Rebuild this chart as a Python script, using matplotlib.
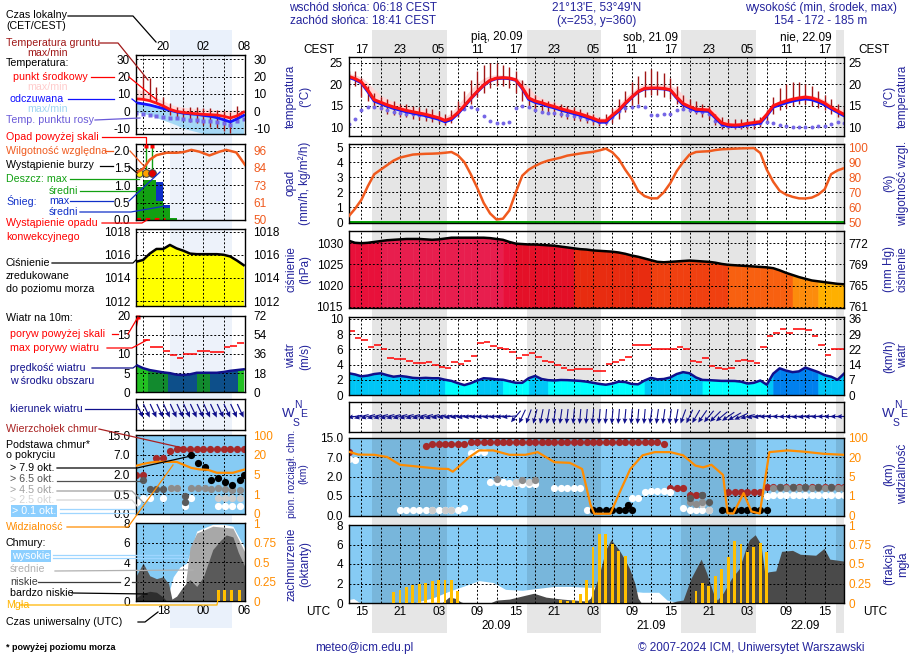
import numpy as np
import matplotlib
matplotlib.use("Agg")
import matplotlib.pyplot as plt
import matplotlib.transforms as mtransforms
from matplotlib.lines import Line2D
from matplotlib.patches import Rectangle
from matplotlib.colors import ListedColormap, BoundaryNorm

plt.rcParams["font.family"] = ["Liberation Sans", "DejaVu Sans"]
FS = 8.5
LFS = 7.7
plt.rcParams["font.size"] = FS

# ============================ DATA ============================
# main meteogram, hours since 19.09 00 UTC
hours = list(range(13, 91))
temp = [21.8, 21.3, 20.5, 18.6, 16.4, 15.8, 15.2, 14.7, 14.3, 13.9,
        13.6, 13.3, 13.0, 12.6, 12.2, 11.6, 12.1, 13.4, 15.0, 16.7,
        18.3, 19.8, 20.9, 21.4, 21.5, 21.4, 21.0, 19.2, 16.8, 16.1,
        15.7, 15.2, 14.8, 14.3, 13.9, 13.5, 13.1, 12.6, 12.1, 11.5,
        11.5, 12.8, 14.0, 15.6, 17.0, 18.3, 19.0, 19.1, 19.1, 19.0,
        18.7, 17.0, 15.5, 14.8, 14.2, 14.1, 14.0, 12.5, 11.0, 10.6,
        10.5, 10.6, 10.9, 11.1, 11.3, 13.0, 15.0, 15.6, 16.1, 16.5,
        16.8, 17.0, 16.8, 16.3, 15.6, 14.6, 13.8, 13.0]
temp_hi = [22.5, 22.2, 21.6, 20.4, 18.8, 17.5, 16.6, 15.9, 15.4, 15.0,
           14.6, 14.2, 13.9, 13.5, 13.0, 12.4, 13.4, 15.2, 17.0, 18.8,
           20.3, 21.4, 22.0, 22.2, 22.1, 21.9, 21.6, 20.8, 19.3, 17.6,
           16.8, 16.2, 15.7, 15.2, 14.7, 14.3, 13.9, 13.4, 12.9, 12.2,
           12.2, 13.8, 15.4, 16.9, 18.2, 19.4, 20.0, 20.1, 20.0, 19.9,
           19.7, 19.0, 17.5, 15.9, 15.0, 14.8, 14.7, 13.8, 12.0, 11.2,
           11.1, 11.2, 11.4, 11.7, 12.0, 13.5, 15.4, 16.3, 16.8, 17.1,
           17.4, 17.6, 17.4, 17.0, 16.4, 15.5, 14.6, 13.9]
feels = [21.6, 21.1, 20.3, 18.3, 16.1, 15.5, 14.9, 14.4, 14.0, 13.6,
         13.3, 13.0, 12.7, 12.3, 11.9, 11.3, 11.8, 13.2, 14.8, 16.6,
         18.2, 19.7, 20.8, 21.3, 21.4, 21.3, 20.9, 19.0, 16.5, 15.8,
         15.4, 14.9, 14.5, 14.0, 13.6, 13.2, 12.8, 12.3, 11.8, 11.2,
         11.2, 12.5, 13.8, 15.4, 16.9, 18.2, 18.9, 19.0, 19.0, 18.9,
         18.6, 16.8, 15.2, 14.5, 13.9, 13.8, 13.7, 12.2, 10.7, 10.3,
         10.2, 10.3, 10.6, 10.8, 11.0, 12.7, 14.7, 15.2, 15.7, 16.1,
         16.4, 16.6, 16.4, 15.9, 15.2, 14.3, 13.5, 12.7]
dew = [10.8, 12.0, 14.0, 14.6, 14.6, 14.4, 13.9, 13.6, 13.4, 13.2,
       13.0, 12.8, 12.6, 12.3, 12.0, 11.5, 12.2, 13.6, 14.3, 14.6,
       14.2, 12.6, 11.4, 11.0, 11.0, 11.3, 14.4, 15.0, 14.6, 14.0,
       13.6, 13.4, 13.3, 13.1, 12.8, 12.6, 12.3, 12.0, 11.6, 11.3,
       11.3, 12.5, 13.8, 14.4, 14.8, 15.0, 14.8, 12.8, 12.8, 13.0,
       13.2, 14.0, 14.3, 14.0, 13.8, 13.6, 13.2, 11.5, 10.5, 10.2,
       10.2, 10.4, 10.6, 10.8, 11.0, 11.2, 11.0, 10.6, 10.2, 10.0,
       10.0, 10.0, 10.1, 10.2, 10.3, 10.8, 11.2, 11.0]
ground_max = [23.0, 23.0, 21.5, 19.5, 18.0, 17.0, 16.5, 16.0, 15.5, 15.3,
              15.0, 14.8, 14.5, 14.2, 13.8, 13.0, 14.0, 16.0, 18.5, 21.0,
              23.0, 24.5, 25.0, 25.0, 24.5, 24.0, 23.0, 21.0, 19.0, 17.5,
              16.5, 16.0, 15.8, 15.5, 15.0, 14.7, 14.2, 13.5, 13.0, 12.5,
              13.0, 14.5, 16.5, 18.5, 20.5, 22.0, 23.0, 23.5, 23.0, 22.5,
              21.5, 19.5, 17.5, 16.5, 16.0, 15.5, 15.0, 13.0, 12.5, 12.0,
              12.0, 12.0, 12.0, 12.2, 12.5, 14.0, 17.0, 19.0, 20.0, 20.5,
              20.5, 20.0, 19.5, 18.5, 17.5, 16.5, 15.5, 15.0]
ground_min = [19.0, 19.5, 17.0, 16.0, 14.5, 14.0, 13.0, 12.8, 12.5, 12.3,
              12.0, 11.8, 11.5, 11.2, 11.0, 10.5, 11.0, 12.5, 14.0, 15.5,
              17.0, 18.0, 19.0, 19.5, 19.5, 19.0, 18.0, 16.0, 15.0, 14.0,
              13.5, 13.0, 12.8, 12.5, 12.0, 11.8, 11.5, 11.0, 10.5, 10.2,
              10.5, 11.0, 12.0, 13.5, 14.5, 15.5, 17.0, 17.5, 17.5, 17.0,
              16.5, 15.5, 14.5, 13.5, 13.0, 12.5, 12.0, 10.5, 9.5, 9.5,
              9.5, 9.5, 9.5, 9.5, 10.0, 11.0, 13.0, 14.0, 14.5, 15.0,
              15.5, 15.5, 15.0, 14.5, 14.0, 13.0, 12.5, 12.0]
rh = [54, 59, 65, 74, 82, 85, 88, 91, 93, 94,
      95, 95.3, 95.5, 95.6, 95.8, 96.2, 96.7, 94.5, 90, 82,
      73, 63, 56, 52, 52.5, 58, 70, 81, 85, 87.5,
      89.5, 91, 92, 93, 94.3, 95, 95.7, 96.3, 96.8, 97.8,
      98.9, 96.5, 92, 85, 79, 71, 67.5, 66, 66, 70,
      76, 84, 90, 95, 96.7, 97, 97.2, 98, 98.5, 98.7,
      98.9, 99.1, 99.2, 99.3, 96, 85, 77, 71, 68.5, 67,
      66, 65.9, 66.5, 68.5, 72, 82, 84.5, 86]
pres = [1030.6, 1030.1, 1030.0, 1030.1, 1030.3, 1030.5, 1030.7, 1030.8, 1030.9, 1031.0,
        1031.0, 1031.0, 1030.9, 1030.8, 1030.9, 1031.1, 1031.3, 1031.3, 1031.3, 1031.3,
        1031.3, 1031.3, 1031.2, 1031.0, 1030.8, 1030.3, 1029.9, 1029.8, 1029.7, 1029.7,
        1029.6, 1029.5, 1029.4, 1029.2, 1029.0, 1028.8, 1028.6, 1028.5, 1028.3, 1028.2,
        1028.1, 1028.0, 1027.8, 1027.5, 1027.1, 1026.8, 1026.4, 1026.0, 1025.6, 1025.5,
        1025.6, 1025.7, 1025.8, 1025.9, 1025.8, 1025.7, 1025.6, 1025.4, 1025.1, 1024.9,
        1024.8, 1024.7, 1024.6, 1024.5, 1024.4, 1024.3, 1024.1, 1023.6, 1023.0, 1022.5,
        1022.0, 1021.6, 1021.2, 1021.0, 1020.8, 1020.6, 1020.4, 1020.3]
wind = [2.86, 2.7, 2.45, 2.55, 2.75, 2.85, 2.6, 2.4, 2.5, 2.4,
        2.25, 2.2, 2.25, 2.2, 2.2, 2.0, 1.85, 1.55, 1.3, 1.55,
        1.9, 2.2, 2.15, 2.05, 2.0, 1.8, 1.6, 1.6, 2.2, 2.5,
        2.1, 1.95, 1.9, 1.97, 1.95, 1.9, 1.85, 1.75, 1.6, 1.45,
        1.35, 1.5, 1.75, 1.7, 1.45, 1.4, 1.9, 2.25, 2.05, 2.1,
        2.3, 2.75, 3.0, 2.85, 2.3, 1.98, 1.95, 1.9, 1.85, 1.85,
        1.84, 1.75, 1.5, 1.6, 1.9, 1.35, 2.8, 3.5, 3.2, 3.0,
        3.1, 3.6, 3.3, 3.0, 2.6, 2.4, 2.0, 2.8]
gust = [8.4, 7.5, 7.2, 6.3, 6.6, 6.1, 4.9, 4.7, 4.7, 4.4,
        4.2, 4.2, 4.3, 3.9, 3.7, 3.5, 4.3, 4.1, 4.4, 5.1,
        6.8, 6.9, 6.4, 6.2, 6.1, 5.6, 4.9, 5.3, 5.5, 5.0,
        4.5, 4.3, 3.9, 3.6, 3.3, 3.4, 3.4, 3.4, 3.1, 3.1,
        4.1, 4.3, 4.6, 5.0, 6.6, 6.6, 6.6, 6.1, 6.0, 6.0,
        6.0, 6.3, 6.1, 4.4, 4.3, 4.8, 3.8, 3.6, 3.4, 3.6,
        4.4, 4.6, 4.4, 4.2, 6.3, 7.8, 8.2, 8.6, 8.1, 8.7,
        8.7, 8.5, 7.8, 6.5, 5.3, 6.1, 6.1]
wind_dir = [90, 80, 75, 75, 75, 75, 75, 75, 75, 75,
            75, 75, 75, 75, 78, 80, 80, 82, 82, 85,
            85, 85, 85, 85, 85, 85, 40, 25, 20, 15,
            12, 10, 8, 8, 6, 5, 5, 5, 5, 5,
            5, 5, 5, 5, 5, 5, 5, 8, 8, 8,
            8, 10, 20, 25, 30, 35, 40, 45, 50, 55,
            60, 65, 75, 80, 85, 88, 90, 90, 88, 88,
            85, 85, 88, 88, 90, 90, 90, 90]

# cloud base / top (km) by category
ctop_t = [13, 25, 26, 27, 28, 29, 30, 31, 32, 33, 34, 35, 36, 37, 38, 39, 40, 41, 42, 43,
          44, 45, 46, 47, 48, 49, 50, 51, 52, 53, 54, 55, 56, 57, 58, 59, 60, 61, 62,
          63, 64, 65, 66, 67, 68, 72, 73, 74, 75, 76, 77,
          78, 79, 80, 81, 82, 83, 84, 85, 86, 87, 88, 89, 90]
ctop_h = [9.1, 11.6, 12.3, 12.5, 12.5, 12.5, 12.5, 12.5, 13.2, 13.2, 13.2, 13.2, 13.2, 13.2, 13.2, 13.2, 13.2, 13.2, 13.2, 13.2,
          13.2, 13.2, 13.2, 13.2, 13.2, 13.2, 13.2, 13.2, 13.2, 13.2, 13.2, 13.2, 13.2, 13.2, 13.2, 13.2, 13.2, 13.2, 12.3,
          1.1, 1.1, 1.1, 0.55, 0.55, 0.55, 0.8, 0.8, 0.8, 0.8, 0.8, 0.8,
          1.2, 1.2, 1.2, 1.2, 1.2, 1.2, 1.2, 1.2, 1.2, 1.2, 1.2, 1.2, 1.2]
cb01_t = [13, 14, 21, 22, 23, 24, 25, 26, 27, 28, 29, 30, 31, 32, 33, 34, 35, 36, 37, 38,
          39, 40, 41, 42, 45, 46, 47, 48, 49, 50, 57, 58, 59, 60, 61, 62, 63, 65, 66, 67,
          68, 69, 78, 79, 80, 81, 82, 83, 84, 85, 86, 87, 88, 89, 90]
cb01_h = [6.5, 6.2, 0.15, 0.15, 0.15, 0.15, 0.15, 0.15, 0.15, 0.15, 0.15, 0.15, 0.2, 8.5, 9.0, 9.0, 1.6, 1.6, 1.55, 1.5,
          1.5, 1.45, 1.45, 1.4, 1.15, 1.1, 1.1, 1.1, 1.1, 0.15, 0.45, 0.45, 0.8, 0.85, 0.85, 0.85, 0.8, 0.2, 0.15, 0.15,
          0.15, 0.15, 0.5, 0.55, 0.55, 0.55, 0.55, 0.55, 0.55, 0.55, 0.55, 0.55, 0.55, 0.55, 0.55]
cb25_t = [26, 28, 29, 39, 41, 68, 69]
cb25_h = [0.15, 0.15, 0.15, 1.6, 1.55, 0.3, 0.15]
cb45_t = [36, 40, 42, 66, 67, 68, 79, 80, 81, 82, 83, 84, 85, 86, 87, 88, 89, 90]
cb45_h = [1.8, 1.75, 1.7, 0.35, 0.3, 0.35, 1.1, 1.1, 1.1, 1.15, 1.15, 1.15, 1.15, 1.15, 1.15, 1.15, 1.15, 1.15]
cb65_t = [66, 68, 69, 80, 82, 84, 86, 88]
cb65_h = [0.45, 0.55, 0.35, 1.2, 1.2, 1.2, 1.2, 1.2]
cb79_t = [51, 52, 53, 54, 55, 56, 56.5, 57, 71, 72, 73, 74, 75, 76, 77, 78]
cb79_h = [0.15, 0.15, 0.15, 0.15, 0.15, 0.15, 0.28, 0.15, 0.15, 0.15, 0.15, 0.15, 0.15, 0.15, 0.15, 0.15]
vis_t = [13, 14.5, 17, 19, 21, 23, 25, 27, 28.5, 29.2, 30, 31.8, 33.3, 35.5, 38, 40.5, 42.4, 45, 47.4, 49.3,
         50.6, 51.2, 53.7, 55, 56.8, 58.7, 60.6, 63, 65, 66.9, 68.1, 69.4, 71.2, 71.9, 72.8, 74.4, 75.6, 76.9,
         78.4, 81.2, 83.7, 86.9, 90]
vis_km = [42, 30, 29, 20, 14, 13, 12, 11, 10.8, 8.7, 12, 20, 47, 47, 29, 29, 40, 16, 15.5, 10.8,
          0.56, 0.09, 0.09, 1.35, 10.8, 27, 40, 40, 27, 13.4, 12, 14, 6.2, 0.12, 0.1, 1.6, 0.21, 0.1,
          40, 47, 42, 33, 29]

# cloud cover (oktas) and fog (fraction)
high_t = [13, 13.8, 14.6, 15.5, 23, 26, 28.6, 31.2, 33.3, 35.5, 37.4, 40, 42.4, 45, 47.4, 50.6, 52.4,
          55.6, 58.7, 61.2, 62.5, 63.7, 64.5, 90]
high_okt = [0.35, 0.45, 0.1, 0, 0, 0.5, 1.2, 1.8, 2.3, 2.1, 1.4, 1.3, 1.5, 1.7, 1.7, 1.6, 1.7,
            1.3, 1.1, 1.1, 0.3, 0.1, 0, 0]
low_t = [13, 27.5, 28.6, 29.5, 30.5, 31, 35, 36, 38, 40.5, 41.8, 43.7, 46.2, 50, 50.6, 51.8, 53, 53.8, 55, 55.9,
         56.7, 57.5, 58, 58.5, 63, 64, 65, 66.2, 67.8, 68.7, 69.7, 70.3, 71.2, 72.5, 73.7, 74.7, 75.3, 76.2, 77.1,
         77.7, 78.3, 79.4, 80.3, 82, 83.2, 85.6, 86.9, 87.8, 90]
low_okt = [0, 0, 0.6, 0.5, 0.1, 0, 0, 0.3, 0.4, 0.8, 1.0, 0.6, 0.4, 0.2, 0.5, 2.5, 5.5, 6.5, 5.5, 4.5,
           3.5, 2.0, 0.5, 0, 0, 0.2, 0.3, 2.5, 4.5, 3.0, 1.0, 0.3, 1.0, 2.5, 3.5, 5.5, 6.5, 7.0, 6.0,
           3.0, 3.2, 3.3, 5.3, 5.4, 5.0, 4.9, 5.6, 4.5, 4.3]
fog_t = [20, 21, 22, 23, 24, 25, 26, 27, 28, 29, 30,
         46, 47, 48, 49, 50, 51, 52, 53, 54, 55, 56,
         67, 68, 69, 70, 71, 72, 73, 74, 75, 76, 77, 78]
fog_frac = [0.14, 0.17, 0.2, 0.23, 0.24, 0.26, 0.28, 0.3, 0.3, 0.3, 0.15,
            0.035, 0.03, 0.04, 0.11, 0.3, 0.72, 0.89, 0.89, 0.76, 0.67, 0.6,
            0.16, 0.26, 0.22, 0.34, 0.44, 0.59, 0.8, 0.76, 0.65, 0.72, 0.77, 0.66]

cest_tick_t = [15, 21, 27, 33, 39, 45, 51, 57, 63, 69, 75, 81, 87]
day_t = [36, 60, 84]
day_top = ["pią, 20.09", "sob, 21.09", "nie, 22.09"]
day_bottom = ["20.09", "21.09", "22.09"]
mmhg_labels = ["761", "765", "769", "772"]
kmh_labels = ["0", "7", "14", "22", "29", "36"]

# legend (example) column, hours UTC (24 = 00 next day)
mini_t = list(range(14, 31))
mini_temp = [7.1, 6.8, 6.0, 4.6, 3.0, 1.0, -0.2, -0.8, -1.2, -1.6, -1.9, -2.1, -2.3, -3.0, -4.0, -2.8, -0.6]
mini_temp_hi = [13.0, 11.5, 9.7, 7.8, 6.0, 4.0, 2.9, 2.2, 1.8, 1.5, 1.2, 1.0, 0.8, 0.6, 0.6, 0.6, 0.6]
mini_feel = [4.8, 4.2, 3.5, 2.5, 1.5, 0.5, -0.5, -1.2, -1.6, -1.9, -2.5, -3.0, -3.8, -5.0, -6.3, -4.5, -2.5]
mini_feel_lo = [-0.4, -1.5, -2.3, -3.8, -5.2, -6.6, -8.1, -10.0, -11.0, -12.0, -13.0, -13.0, -13.0, -13.0, -13.0, -13.0, -13.0]
mini_dew = [-1.4, -1.8, -2.3, -2.7, -3.3, -3.8, -4.3, -4.8, -5.0, -5.3, -5.6, -6.0, -6.5, -7.0, -8.0, -6.0, -4.5]
mini_gt = list(range(15, 30))
mini_gmax = [20.9, 18.9, 13.7, 8.3, 4.4, 2.5, 1.5, 2.1, 2.1, 1.5, 1.5, 0.6, 0.0, -0.4, 2.9]
mini_gmin = [6.4, 6.4, 4.4, 1.5, -2.3, -4.3, -5.2, -6.2, -7.1, -8.1, -9.1, -10.0, -11.4, -12.9, -5.2]
mini_prec_edges = [13.9, 15, 16, 17, 18, 19, 20]
mini_rain = [0.95, 1.15, 1.15, 0.55, 0.34, 0.05]
mini_snow = [0, 0, 0, 0.55, 0.09, 0]
mini_storm_t = [14.4, 15.4, 16.4]
mini_over_t = [15.4, 16.4]
mini_rh_t = [13.9, 15, 16, 17, 18.5, 20, 21, 22.2, 23.4, 24.9, 26.4, 27.4, 28.9, 30.2]
mini_rh = [81, 84, 90, 93, 94.6, 94.6, 95, 96.5, 95.3, 92.8, 95.3, 96.5, 94.8, 86.6]
mini_pres = [1015.4, 1015.55, 1016.1, 1016.5, 1016.5, 1016.85, 1016.55, 1016.35, 1016.1, 1016.05,
             1016.05, 1016.05, 1016.05, 1016.0, 1015.85, 1015.5, 1015.1]
mini_wind = [7.1, 6.3, 5.8, 5.5, 5.2, 5.0, 4.6, 4.5, 4.7, 5.1, 5.1, 5.1, 5.1, 5.3, 5.6, 5.8, 6.0]
mini_gust = [13.7, 11.7, 11.7, 10.8, 9.7, 9.0, 10.1, 10.1, 10.8, 10.8, 10.6, 10.6, 11.7, 12.0, 13.0]
mini_wdir = [330, 335, 335, 335, 335, 335, 335, 335, 335, 335, 335, 335, 335, 335, 335, 335, 335]
mini_wseg_edges = [13.9, 15.8, 18.7, 23.0, 25.0, 29.1, 30.2]
mini_ctop_t = [14, 15, 17, 18, 19, 20, 21, 22, 23, 24, 25, 26, 27, 28, 29, 30]
mini_ctop_h = [2.0, 2.0, 6.3, 6.3, 8.5, 9.5, 9.5, 9.5, 9.5, 9.5, 9.5, 9.5, 9.5, 9.5, 9.5, 9.5]
mini_c79_t = [22.2, 23.2, 24.2, 25.2, 26.2, 27.2, 28.2, 29.4, 30.1]
mini_c79_h = [7.0, 4.8, 3.9, 1.6, 1.7, 1.4, 1.2, 1.6, 1.95]
mini_c65_t = [15, 16, 17, 18, 21.2, 21.2]
mini_c65_h = [1.6, 0.9, 0.9, 0.9, 0.45, 0.3]
mini_c45_t = [19.1, 20, 22.2, 23.2, 24.2, 25.2, 26.2, 27.2, 28.2, 29.4]
mini_c45_h = [0.95, 0.95, 0.95, 0.95, 0.95, 0.9, 0.95, 0.9, 0.85, 0.8]
mini_c25_t = [19.1, 20.0, 26.2, 27.2, 28.2, 29.4]
mini_c25_h = [1.0, 1.0, 0.4, 0.4, 0.4, 0.4]
mini_c01_t = [14.1, 15, 16, 18, 21.2, 22.2, 26.2, 27.2, 28.2, 29.4]
mini_c01_h = [0.3, 0.4, 0.4, 0.4, 0.2, 0.4, 0.2, 0.2, 0.2, 0.2]
mini_vis_t = [13.9, 15, 16, 17, 18, 19, 20, 21, 22.2, 23.4, 24.7, 26, 27, 28.4, 30.2]
mini_vis_km = [11.5, 13, 14, 14.6, 14.6, 14.6, 14.6, 12.5, 10, 8.9, 8.5, 6.3, 6.3, 6.3, 8.9]
mini_high_t = [13.9, 18.5, 19.5, 20.5, 21.5, 23, 25.4, 27, 28.4, 30.2]
mini_high_okt = [0, 0, 2.5, 3.5, 3.9, 7.2, 7.9, 7.9, 7.7, 5.4]
mini_mid_t = [13.9, 21.0, 22.0, 23.0, 25.4, 28.4, 30.2]
mini_mid_okt = [0, 0, 5.5, 7.0, 7.7, 7.5, 5.0]
mini_low_t = [13.9, 15, 16, 17, 18, 18.8, 19.3, 20, 21, 22, 23, 24, 25.4, 26.5, 27.4, 28.4, 29.2, 30.2]
mini_low_okt = [2.5, 3.9, 2.6, 2.3, 2.5, 1.8, 0.2, 0.5, 1.5, 2.2, 1.5, 2.5, 5.3, 6.2, 6.8, 6.6, 5.0, 3.5]
mini_vlow_t = [13.9, 15, 16, 17, 18, 18.5]
mini_vlow_okt = [0.3, 0.8, 1.0, 0.9, 0.4, 0]
mini_fog_t = [26.2, 27.2, 28.2, 29.4]
mini_fog_frac = [0.14, 0.14, 0.14, 0.14]

SUNRISE_UTC = 4 + 18 / 60
SUNSET_UTC = 16 + 41 / 60
MINI_NIGHT = (19.0, 28.3)

# ============================ STYLE / LAYOUT ============================
W, H = 910, 660
XL, XR, T0, T1 = 348.5, 844.0, 13, 90
MXL, MXR, MT0, MT1 = 135.7, 245.0, 13.9, 30.2
MAIN_GRID = list(range(15, 90, 3))
MINI_GRID = [15, 18, 21, 24, 27]
AXC = "#23239c"
NAVYT = "#10108c"
RHC = "#f05a1e"
VISC = "#ff8c00"
GREEN = "#12a012"
SNOWC = "#1030c8"
DRED = "#a01818"
SKY = "#86cbf4"
GRID = dict(color="black", lw=0.7, ls=(0, (2, 2)), zorder=2)

nights = [(24 * d + SUNSET_UTC, 24 * (d + 1) + SUNRISE_UTC) for d in range(4)]

fig = plt.figure(figsize=(W / 100, H / 100), dpi=100)
fig.patch.set_facecolor("white")


def add_ax(x0, y0, x1, y1, z=0):
    return fig.add_axes([x0 / W, 1 - y1 / H, (x1 - x0) / W, (y1 - y0) / H], zorder=z)


def ftext(x, y, s, ha="left", va="center", **kw):
    kw.setdefault("fontsize", FS)
    return fig.text(x / W, 1 - y / H, s, ha=ha, va=va, **kw)


def fline(pts, color, lw=0.9):
    fig.add_artist(Line2D([p[0] / W for p in pts], [1 - p[1] / H for p in pts],
                          color=color, lw=lw, transform=fig.transFigure, zorder=20))


def panel(y0, y1, ylim, yticks, ylabels=None, mini=False, face="white",
          rlim=None, rticks=None, rlabels=None, rcolor="black"):
    if mini:
        ax = add_ax(MXL, y0, MXR, y1)
        ax.set_xlim(MT0, MT1)
        xg = MINI_GRID
    else:
        ax = add_ax(XL, y0, XR, y1)
        ax.set_xlim(T0, T1)
        xg = MAIN_GRID
    ax.set_facecolor(face)
    ax.set_ylim(*ylim)
    ax.set_xticks([])
    ax.set_yticks(yticks)
    if ylabels is None:
        ylabels = [str(v) for v in yticks]
    ax.set_yticklabels(ylabels)
    ax.tick_params(axis="y", length=0, pad=4, labelsize=FS)
    for v in xg:
        ax.axvline(v, **GRID)
    for v in yticks:
        if ylim[0] + 1e-6 < v < ylim[1] - 1e-6:
            ax.axhline(v, **GRID)
    for s in ax.spines.values():
        s.set_linewidth(1.0)
        s.set_zorder(10)
    sec = None
    if rlabels is not None:
        sec = ax.twinx()
        sec.set_ylim(*(rlim if rlim else ylim))
        sec.set_yticks(rticks if rticks is not None else yticks)
        sec.set_yticklabels(rlabels, color=rcolor)
        sec.tick_params(axis="y", length=0, pad=(6 if mini else 3), labelsize=FS)
        for s in sec.spines.values():
            s.set_visible(False)
    return ax, sec


def shade(ax, spans, color="black", alpha=0.1):
    for a, b in spans:
        ax.axvspan(a, b, color=color, alpha=alpha, lw=0, zorder=0.5)


def cb_pos(h):
    return np.interp(h, [0, 0.5, 2, 7, 15], [0, 1, 2, 3, 4])


def vis_pos(v):
    return np.interp(v, [0, 1, 5, 20, 100], [0, 1, 2, 3, 4])


pcmap = ListedColormap(["#ffff00", "#ffb000", "#fc8c0c", "#f86010", "#f04010",
                        "#e82c10", "#e41028", "#e8103a", "#e81e4e"])
pnorm = BoundaryNorm([990, 1018, 1021, 1022.3, 1024.9, 1026.2, 1028.7, 1029.9, 1030.6, 1050], pcmap.N)


def wind_color(v):
    if v < 2.0:
        return "#00ffff"
    if v < 2.95:
        return "#00c6f6"
    return "#0080ee"


def quiv(ax, t, d, y, length_in, width, pivot):
    rad = np.deg2rad(np.array(d, dtype=float))
    ax.quiver(t, np.full(len(t), y), -np.sin(rad), -np.cos(rad), angles="uv", pivot=pivot,
              scale_units="inches", scale=1 / length_in, width=width, headwidth=4.5,
              headlength=5, headaxislength=4.5, color=NAVYT, zorder=7)


# ---------------- background night bands ----------------
bg = add_ax(XL, 30, XR, 633, z=-5)
bg.set_xlim(T0, T1)
bg.set_ylim(0, 1)
bg.axis("off")
for a, b in nights:
    bg.axvspan(a, b, color="#e6e6e6", lw=0)
mbg = add_ax(MXL, 30, MXR, 628, z=-5)
mbg.set_xlim(MT0, MT1)
mbg.set_ylim(0, 1)
mbg.axis("off")
mbg.axvspan(*MINI_NIGHT, color="#eaf1fb", lw=0)

# ---------------- main: temperature ----------------
ax, sec = panel(57, 135.5, (8.1, 26.3), [10, 15, 20, 25], rlabels=["10", "15", "20", "25"])
shade(ax, nights)
ax.fill_between(hours, temp, temp_hi, color="#ffd6d6", lw=0, zorder=1)
ax.vlines(hours, ground_min, ground_max, color="#a01515", lw=1.0, zorder=3)
ax.plot(hours, dew, "o", ms=2.8, color="#7566e6", mec="none", zorder=3.5)
ax.plot(hours, feels, color="#1414ff", lw=2.2, zorder=4)
ax.plot(hours, temp, color="#ff1414", lw=2.2, zorder=5)

# ---------------- main: precipitation / RH ----------------
ax, sec = panel(144, 222.5, (0, 5.2), [0, 1, 2, 3, 4, 5], rlim=(50, 102),
                rticks=[50, 60, 70, 80, 90, 100], rlabels=["50", "60", "70", "80", "90", "100"], rcolor=RHC)
shade(ax, nights)
ax.axhline(0.03, color="#00a000", lw=1.4, zorder=4)
sec.plot(hours, rh, color=RHC, lw=1.8)

# ---------------- main: pressure ----------------
ax, sec = panel(230.5, 308, (1014.7, 1033), [1015, 1020, 1025, 1030], rlabels=mmhg_labels)
shade(ax, nights)
for i in range(len(hours) - 1):
    c = pcmap(pnorm(0.5 * (pres[i] + pres[i + 1])))
    ax.fill_between(hours[i:i + 2], pres[i:i + 2], 1014.7, color=c, ec=c, lw=0.4, zorder=1)
ax.plot(hours, pres, color="black", lw=1.8, zorder=4)

# ---------------- main: wind ----------------
ax, sec = panel(316.5, 395, (0, 10.3), [0, 2, 4, 6, 8, 10], rlabels=kmh_labels)
shade(ax, nights)
for i in range(len(hours) - 1):
    c = wind_color(0.5 * (wind[i] + wind[i + 1]))
    ax.fill_between(hours[i:i + 2], wind[i:i + 2], 0, color=c, ec=c, lw=0.4, zorder=1)
ax.plot(hours, wind, color=NAVYT, lw=1.8, zorder=4)
ax.hlines(gust, hours[:-1], hours[1:], color="#ff1010", lw=1.2, zorder=4)

# ---------------- main: wind direction ----------------
ax, _ = panel(401.5, 431.5, (0, 1), [], ylabels=[])
shade(ax, nights)
quiv(ax, hours, wind_dir, 0.5, 0.15, 0.0022, "middle")

# ---------------- main: cloud base ----------------
ax, sec = panel(437.5, 515.5, (0, 4), [0, 1, 2, 3, 4], ylabels=["0.0", "0.5", "2.0", "7.0", "15.0"],
                face=SKY, rlabels=["0", "1", "5", "20", "100"], rcolor=VISC)
shade(ax, nights)
for tt, hh, cc in [(ctop_t, ctop_h, "#a52a2a"), (cb01_t, cb01_h, "white"), (cb25_t, cb25_h, "#cccccc"),
                   (cb45_t, cb45_h, "#8c8c8c"), (cb65_t, cb65_h, "#5a5a5a"), (cb79_t, cb79_h, "black")]:
    ax.plot(tt, cb_pos(hh), "o", ms=5.2, color=cc, mec="none", zorder=3)
sec.plot(vis_t, vis_pos(vis_km), color=VISC, lw=1.6)

# ---------------- main: cloud cover + fog ----------------
ax, sec = panel(525, 603, (0, 8), [0, 2, 4, 6, 8], face=SKY, rlim=(0, 1),
                rticks=[0, 0.25, 0.5, 0.75, 1], rlabels=["0", "0.25", "0.5", "0.75", "1"], rcolor=VISC)
shade(ax, nights)
ax.fill_between(high_t, 0, high_okt, color="white", lw=0, zorder=1)
ax.fill_between(low_t, 0, low_okt, color="#4a4a4a", lw=0, zorder=1.2)
sec.bar(fog_t, fog_frac, width=0.45, color="#ffbf00", zorder=3)

# ---------------- legend column: temperature ----------------
ax, sec = panel(55, 133.5, (-13.0, 32.5), [-10, 0, 10, 20, 30], mini=True,
                rlabels=["-10", "0", "10", "20", "30"])
shade(ax, [MINI_NIGHT], color="#2060c0", alpha=0.08)
ax.fill_between(mini_t, mini_temp, mini_temp_hi, color="#ffdcdc", lw=0, zorder=1)
ax.fill_between(mini_t, mini_feel_lo, mini_feel, color="#a4d8f6", lw=0, zorder=1)
ax.vlines(mini_gt, mini_gmin, mini_gmax, color="#a01515", lw=1.0, zorder=3)
ax.plot(mini_t, mini_dew, "s", ms=2.6, color="#7566e6", mec="none", zorder=3.5)
ax.plot(mini_t, mini_feel, color="#1414ff", lw=2.0, zorder=4)
ax.plot(mini_t, mini_temp, color="#ff1414", lw=2.0, zorder=5)

# ---------------- legend column: precipitation ----------------
ax, sec = panel(144, 220, (0, 2.19), [0, 0.5, 1, 1.5, 2], ylabels=["0.0", "0.5", "1.0", "1.5", "2.0"],
                mini=True, rlim=(50, 100.4), rticks=[50, 61.5, 73, 84.5, 96],
                rlabels=["50", "61", "73", "84", "96"], rcolor=RHC)
shade(ax, [MINI_NIGHT], color="#2060c0", alpha=0.08)
edges = np.array(mini_prec_edges)
ax.bar(edges[:-1], mini_rain, width=np.diff(edges), align="edge", color=GREEN, lw=0, zorder=1)
ax.bar(edges[:-1], mini_snow, bottom=mini_rain, width=np.diff(edges), align="edge", color=SNOWC, lw=0, zorder=1)
ax.vlines(mini_over_t, 1.35, 2.12, color=GREEN, lw=1.0, zorder=3)
ax.plot(mini_over_t, [2.12] * len(mini_over_t), "s", ms=3.5, color="#ff0000", mec="none", zorder=5, clip_on=False)
for tt, cc in zip(mini_storm_t, ["#ffe800", "#ffa000", "#e00000"]):
    ax.plot([tt], [1.35], "o", ms=5.5, color=cc, mec="#404040", mew=0.7, zorder=5)
ax.plot([13.9, 18.3], [0.03, 0.03], color="#ff0000", lw=2.2, ls=(0, (1.5, 1.5)), zorder=4)
sec.plot(mini_rh_t, mini_rh, color=RHC, lw=1.8)

# ---------------- legend column: pressure ----------------
ax, sec = panel(229.3, 306, (1011.57, 1018.2), [1012, 1014, 1016, 1018], mini=True,
                rlabels=["1012", "1014", "1016", "1018"])
shade(ax, [MINI_NIGHT], color="#2060c0", alpha=0.08)
ax.fill_between(mini_t, mini_pres, 1011.57, color=pcmap(pnorm(1016)), lw=0, zorder=1)
ax.plot(mini_t, mini_pres, color="black", lw=1.8, zorder=4)

# ---------------- legend column: wind ----------------
ax, sec = panel(315.7, 392.3, (0, 20), [0, 5, 10, 15, 20], mini=True,
                rlabels=["0", "18", "36", "54", "72"])
shade(ax, [MINI_NIGHT], color="#2060c0", alpha=0.08)
for (a, b), cc in zip(zip(mini_wseg_edges[:-1], mini_wseg_edges[1:]),
                      ["#22c022", "#128a2e", "#0d4f8a", "#128a2e", "#0d4f8a", "#22c022"]):
    poly = ax.fill_between(mini_t, mini_wind, 0, color=cc, lw=0, zorder=1)
    poly.set_clip_path(Rectangle((a, 0), b - a, 30, transform=ax.transData))
ax.plot(mini_t, mini_wind, color=NAVYT, lw=1.8, zorder=4)
ax.hlines(mini_gust, mini_gt, [t + 1 for t in mini_gt], color="#ff1010", lw=1.2, zorder=4)
ax.plot([13.9, 14.3], [16.3, 19.7], color="#ff1010", lw=1.0, zorder=4)
ax.plot([14.3], [19.7], "s", ms=3.5, color="#ff0000", mec="none", zorder=5, clip_on=False)

# ---------------- legend column: wind direction ----------------
ax, _ = panel(399, 430, (0, 1), [], ylabels=[], mini=True)
shade(ax, [MINI_NIGHT], color="#2060c0", alpha=0.08)
quiv(ax, mini_t, mini_wdir, 0.4, 0.15, 0.011, "tip")

# ---------------- legend column: cloud base ----------------
ax, sec = panel(435, 514, (0, 4), [0, 1, 2, 3, 4], ylabels=["0.0", "0.5", "2.0", "7.0", "15.0"],
                mini=True, face=SKY, rlabels=["0", "1", "5", "20", "100"], rcolor=VISC)
for tt, hh, cc in [(mini_ctop_t, mini_ctop_h, "#a52a2a"), (mini_c01_t, mini_c01_h, "white"),
                   (mini_c25_t, mini_c25_h, "#cccccc"), (mini_c45_t, mini_c45_h, "#8c8c8c"),
                   (mini_c65_t, mini_c65_h, "#5a5a5a"), (mini_c79_t, mini_c79_h, "black")]:
    ax.plot(tt, cb_pos(hh), "o", ms=5.2, color=cc, mec="none", zorder=3)
sec.plot(mini_vis_t, vis_pos(mini_vis_km), color=VISC, lw=1.6)

# ---------------- legend column: clouds ----------------
ax, sec = panel(523.3, 601, (0, 8), [0, 2, 4, 6, 8], mini=True, face=SKY, rlim=(0, 1),
                rticks=[0, 0.25, 0.5, 0.75, 1], rlabels=["0", "0.25", "0.5", "0.75", "1"], rcolor=VISC)
ax.fill_between(mini_high_t, 0, mini_high_okt, color="white", lw=0, zorder=1)
ax.fill_between(mini_mid_t, 0, mini_mid_okt, color="#a8a8a8", lw=0, zorder=1.1)
ax.fill_between(mini_low_t, 0, mini_low_okt, color="#5a5a5a", lw=0, zorder=1.2)
ax.fill_between(mini_vlow_t, 0, mini_vlow_okt, color="#2e2e2e", lw=0, zorder=1.3)
sec.bar(mini_fog_t, mini_fog_frac, width=0.45, color="#ffbf00", zorder=3)

# ---------------- time labels ----------------
tr = mtransforms.blended_transform_factory(bg.transData, fig.transFigure)
for t in cest_tick_t:
    fig.text(t, 1 - 50 / H, f"{(t + 2) % 24:02d}", transform=tr, ha="center", va="center", fontsize=FS)
    fig.text(t, 1 - 612 / H, f"{t % 24:02d}", transform=tr, ha="center", va="center", fontsize=FS)
for t, s1, s2 in zip(day_t, day_top, day_bottom):
    fig.text(t, 1 - 37 / H, s1, transform=tr, ha="center", va="center", fontsize=FS)
    fig.text(t, 1 - 626 / H, s2, transform=tr, ha="center", va="center", fontsize=FS)
mtr = mtransforms.blended_transform_factory(mbg.transData, fig.transFigure)
for t in [18, 24, 30]:
    fig.text(t, 1 - 47 / H, f"{(t + 2) % 24:02d}", transform=mtr, ha="center", va="center", fontsize=FS)
    fig.text(t, 1 - 611 / H, f"{t % 24:02d}", transform=mtr, ha="center", va="center", fontsize=FS)
ftext(319, 50, "CEST", ha="center")
ftext(874, 50, "CEST", ha="center")
ftext(318, 612, "UTC", ha="center")
ftext(875, 612, "UTC", ha="center")

# ---------------- header / footer ----------------
ftext(363, 8, "wschód słońca: 06:18 CEST", ha="center", color=AXC)
ftext(363, 21, "zachód słońca: 18:41 CEST", ha="center", color=AXC)
ftext(597, 8, "21°13'E, 53°49'N", ha="center", color=AXC)
ftext(597, 21, "(x=253, y=360)", ha="center", color=AXC)
ftext(821, 8, "wysokość (min, środek, max)", ha="center", color=AXC)
ftext(821, 21, "154 - 172 - 185 m", ha="center", color=AXC)
ftext(364, 648, "meteo@icm.edu.pl", ha="center", color=AXC)
ftext(751, 648, "© 2007-2024 ICM, Uniwersytet Warszawski", ha="center", color=AXC)
ftext(6, 648, "* powyżej poziomu morza", fontsize=6.5, fontweight="bold")

# ---------------- axis titles ----------------
for yc, left, right, fsz in [(96, "temperatura\n(°C)", "(°C)\ntemperatura", FS),
                             (183, "opad\n(mm/h, kg/m²/h)", "(%)\nwilgotność wzgl.", FS),
                             (269, "ciśnienie\n(hPa)", "(mm Hg)\nciśnienie", FS),
                             (356, "wiatr\n(m/s)", "(km/h)\nwiatr", FS),
                             (474, "pion. rozciągł. chm.\n(km)", "(km)\nwidzialność", 7.4),
                             (564, "zachmurzenie\n(oktanty)", "(frakcja)\nmgła", FS)]:
    ftext(298, yc, left, ha="center", rotation=90, color=AXC, linespacing=1.2,
          multialignment="center", fontsize=fsz)
    ftext(896, yc, right, ha="center", rotation=90, color=AXC, linespacing=1.15,
          multialignment="center")
for dx in [0, 600]:
    ftext(288 + dx, 414, "W", ha="center", color=AXC, fontsize=9.5)
    ftext(298 + dx, 405, "N", ha="center", color=AXC, fontsize=7.5)
    ftext(304 + dx, 414, "E", ha="center", color=AXC, fontsize=7.5)
    ftext(296 + dx, 423, "S", ha="center", color=AXC, fontsize=7.5)

# ---------------- legend texts ----------------
legend_texts = [
    (6, 15, "Czas lokalny", "black"), (6, 26, "(CET/CEST)", "black"),
    (6, 43, "Temperatura gruntu", DRED), (27, 53, "max/min", DRED),
    (6, 63, "Temperatura:", "black"), (13, 77, "punkt środkowy", "#ff0000"),
    (27, 87, "max/min", "#ffcccc"), (9, 99, "odczuwana", "#1010ff"),
    (27, 109, "max/min", "#9fd6f2"), (6, 120, "Temp. punktu rosy", "#6a5ad8"),
    (6, 137, "Opad powyżej skali", "#ff0000"), (6, 151, "Wilgotność względna", RHC),
    (6, 165, "Wystąpienie burzy", "black"), (6, 179, "Deszcz: max", GREEN),
    (49, 191, "średni", GREEN), (6, 201, "Śnieg:", SNOWC), (49, 201, "max", SNOWC),
    (49, 212, "średni", SNOWC), (6, 223, "Wystąpienie opadu", "#ff0000"),
    (6, 237, "konwekcyjnego", "#ff0000"), (6, 263, "Ciśnienie", "black"),
    (6, 276, "zredukowane", "black"), (6, 289, "do poziomu morza", "black"),
    (6, 318, "Wiatr na 10m:", "black"), (10, 334, "poryw powyżej skali", "#ff0000"),
    (10, 348, "max porywy wiatru", "#ff0000"), (10, 368, "prędkość wiatru", NAVYT),
    (10, 381, "w środku obszaru", NAVYT), (10, 409, "kierunek wiatru", NAVYT),
    (6, 429, "Wierzchołek chmur", "#a82020"), (6, 445, "Podstawa chmur*", "black"),
    (6, 455, "o pokryciu", "black"), (10, 468, "> 7.9 okt.", "black"),
    (10, 479, "> 6.5 okt.", "#505050"), (10, 490, "> 4.5 okt.", "#a0a0a0"),
    (10, 500, "> 2.5 okt.", "#d4d4d4"), (6, 527, "Widzialność", VISC),
    (6, 543, "Chmury:", "black"), (10, 569, "średnie", "#b0b0b0"),
    (10, 582, "niskie", "#3c3c3c"), (10, 593, "bardzo niskie", "black"),
    (6, 605, "Mgła", "#ffb400"), (6, 622, "Czas uniwersalny (UTC)", "black"),
]
for x, y, s, c in legend_texts:
    ftext(x, y, s, color=c, fontsize=LFS)
ftext(12, 511, "> 0.1 okt.", color="white", fontsize=LFS,
      bbox=dict(facecolor="#8ccfff", edgecolor="none", pad=0.8))
ftext(12, 556, "wysokie", color="white", fontsize=LFS,
      bbox=dict(facecolor="#8ccfff", edgecolor="none", pad=0.8))

legend_lines = [
    ([(68, 16), (133, 16), (156, 42)], "black"),
    ([(100, 43), (118, 43), (148, 80)], DRED),
    ([(91, 77), (114, 77)], "#ff0000"), ([(129, 77), (157, 100)], "#ff0000"),
    ([(68, 99), (114, 99)], "#1010ff"), ([(132, 99), (137, 103)], "#1010ff"),
    ([(95, 120), (140, 118)], "#6a5ad8"),
    ([(102, 137), (146, 137), (146, 146)], "#ff0000"),
    ([(105, 151), (113, 151)], RHC), ([(130, 151), (143, 165)], RHC),
    ([(100, 166), (113, 166)], "black"), ([(129, 166), (137, 173)], "black"),
    ([(70, 179), (139, 179)], GREEN), ([(80, 191), (137, 191)], GREEN),
    ([(70, 201), (113, 201)], SNOWC), ([(129, 201), (160, 172)], SNOWC),
    ([(80, 212), (131, 212), (165, 206)], SNOWC),
    ([(102, 223), (142, 223), (147, 220)], "#ff0000"),
    ([(52, 263), (133, 263), (136, 260)], "black"),
    ([(112, 334), (118, 334)], "#ff0000"), ([(128, 334), (138, 317)], "#ff0000"),
    ([(107, 348), (132, 348), (147, 340)], "#ff0000"),
    ([(92, 368), (133, 368), (137, 365)], NAVYT),
    ([(85, 409), (139, 409)], NAVYT),
    ([(99, 429), (183, 448)], "#a82020"),
    ([(57, 468), (137, 468), (191, 456)], "black"),
    ([(57, 481), (143, 481)], "#505050"),
    ([(57, 491), (132, 491), (143, 502)], "#a0a0a0"),
    ([(57, 500), (132, 500), (138, 507)], "#d4d4d4"),
    ([(60, 509), (135, 509)], "#9fd6ff"), ([(60, 513), (135, 513)], "#9fd6ff"),
    ([(67, 527), (128, 527), (173, 465)], VISC),
    ([(53, 555), (187, 555)], "#9fd6ff"), ([(53, 558), (187, 558)], "#9fd6ff"),
    ([(55, 571), (193, 570)], "#b0b0b0"),
    ([(38, 582), (120, 582)], "#3c3c3c"), ([(132, 582), (137, 582)], "#3c3c3c"),
    ([(72, 593), (147, 594)], "black"),
    ([(20, 605), (217, 605), (219, 593)], "#ffb400"),
    ([(138, 622), (145, 622), (158, 612)], "black"),
]
for pts, c in legend_lines:
    fline(pts, c)

fig.savefig("out.png", dpi=100)
